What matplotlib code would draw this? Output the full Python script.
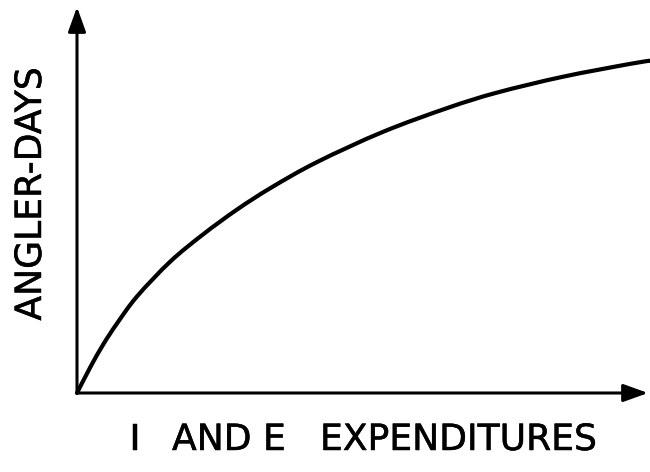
import matplotlib
matplotlib.use("Agg")
import matplotlib.pyplot as plt
import matplotlib.patheffects as pe
from matplotlib.path import Path
from matplotlib.patches import PathPatch

# Curve values (arbitrary units)
expenditure = [0, 0.23, 0.46, 0.70, 1.05, 1.63, 2.2, 2.8, 3.4, 4.2, 5.35, 6.5, 7.35, 8.5, 9.7, 10.05]
angler_days = [0, 0.66, 1.26, 1.8, 2.5, 3.4, 4.1, 4.75, 5.32, 5.98, 6.76, 7.39, 7.78, 8.19, 8.53, 8.61]
x_label_parts = ["I", "AND E", "EXPENDITURES"]
y_label = "ANGLER-DAYS"

W, H = 650, 472
fig = plt.figure(figsize=(W / 100, H / 100), dpi=100)
ax = fig.add_axes([77 / W, (H - 393) / H, (648 - 77) / W, (393 - 7) / H])
ax.set_xlim(0, 10)
ax.set_ylim(0, 10)
ax.axis("off")

# smooth drawing through the read points (Catmull-Rom -> cubic Bezier)
pts = list(zip(expenditure, angler_days))
verts = [pts[0]]
codes = [Path.MOVETO]
n = len(pts)
for i in range(n - 1):
    p0 = pts[i - 1] if i > 0 else pts[i]
    p1 = pts[i]
    p2 = pts[i + 1]
    p3 = pts[i + 2] if i + 2 < n else pts[i + 1]
    c1 = (p1[0] + (p2[0] - p0[0]) / 6, p1[1] + (p2[1] - p0[1]) / 6)
    c2 = (p2[0] - (p3[0] - p1[0]) / 6, p2[1] - (p3[1] - p1[1]) / 6)
    verts += [c1, c2, p2]
    codes += [Path.CURVE4] * 3
ax.add_patch(PathPatch(Path(verts, codes), facecolor="none", edgecolor="black",
                       lw=3.0, clip_on=False, capstyle="round"))

arrow = dict(arrowstyle="-|>,head_length=0.75,head_width=0.27", lw=2.2,
             color="black", shrinkA=0, shrinkB=0, mutation_scale=20)
ax.annotate("", xy=(10, 0), xytext=(0, 0), arrowprops=arrow, annotation_clip=False)
ax.annotate("", xy=(0, 10), xytext=(0, 0), arrowprops=arrow, annotation_clip=False)

fs = 26
thick = [pe.withStroke(linewidth=0.35, foreground="black")]
fig.text(31 / W, 1 - 194 / H, y_label, rotation=90, ha="center", va="center",
         fontsize=fs, family="DejaVu Sans", path_effects=thick)
ty = 1 - 440 / H
fig.text(135 / W, ty, x_label_parts[0], ha="center", va="center", fontsize=fs,
         family="DejaVu Sans", path_effects=thick)
fig.text(172 / W, ty, x_label_parts[1], ha="left", va="center", fontsize=fs,
         family="DejaVu Sans", path_effects=thick)
fig.text(320 / W, ty, x_label_parts[2], ha="left", va="center", fontsize=fs,
         family="DejaVu Sans", path_effects=thick)

fig.savefig("out.png", dpi=100, facecolor="white")
